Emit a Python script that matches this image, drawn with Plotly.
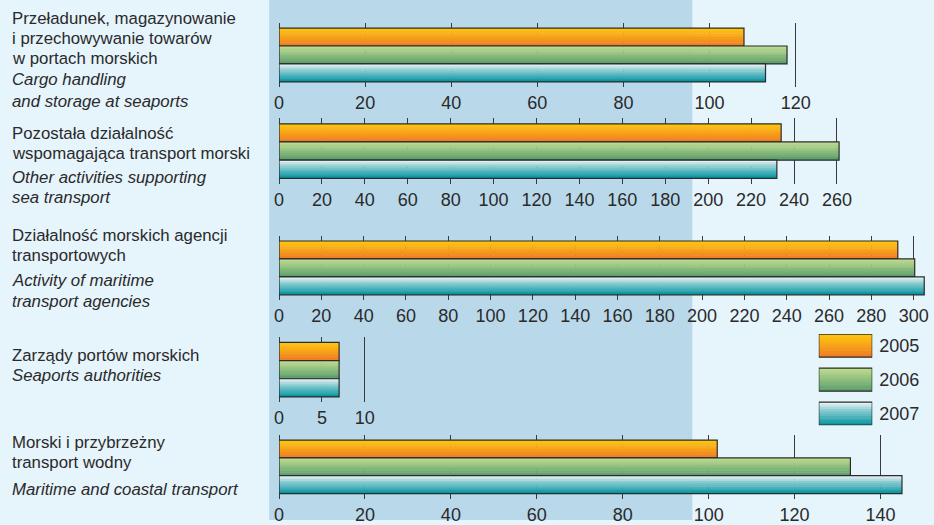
import plotly.graph_objects as go

W, H = 934, 525

# ---------------- data ----------------
years = ["2005", "2006", "2007"]
categories_pl = [
    ["Przeładunek, magazynowanie", "i przechowywanie towarów", "w portach morskich"],
    ["Pozostała działalność", "wspomagająca transport morski"],
    ["Działalność morskich agencji", "transportowych"],
    ["Zarządy portów morskich"],
    ["Morski i przybrzeżny", "transport wodny"],
]
categories_en = [
    ["Cargo handling", "and storage at seaports"],
    ["Other activities supporting", "sea transport"],
    ["Activity of maritime", "transport agencies"],
    ["Seaports authorities"],
    ["Maritime and coastal transport"],
]
values_2005 = [108, 234, 292.5, 7, 102]
values_2006 = [118, 261, 300.5, 7, 133]
values_2007 = [113, 232, 305, 7, 145]
axis_max = [125, 265, 306, 12, 148]
tick_step = [20, 20, 20, 5, 20]

# ---------------- styling / layout (pixels) ----------------
FONT = "Liberation Sans Narrow, Arial Narrow, Liberation Sans, Arial, sans-serif"
BG = "#e6f4fc"
BAND = "#b9d9eb"
GRID = "#3a3a3a"
EDGE = "#2b2b2b"
TXT = "#2a2a2a"
TICK_SIZE = 18
TEXT_SIZE = 16.8

x0_px = 276.7
px_per_unit = [4.347, 2.1667, 2.136, 8.667, 4.338]
bar_top = [28.3, 125.0, 243.3, 345.7, 444.3]
bar_bot = [82.7, 180.0, 297.7, 400.7, 498.3]
PAD = 5.5

text_y = [
    [18.5, 39, 59.5, 80.5, 102],
    [134.5, 155, 179.5, 199.5],
    [237.5, 257.5, 283, 304],
    [358.5, 379.5],
    [446.5, 467, 494],
]


def lerp(c1, c2, t):
    a = [int(c1[i:i + 2], 16) for i in (1, 3, 5)]
    b = [int(c2[i:i + 2], 16) for i in (1, 3, 5)]
    return "#%02x%02x%02x" % tuple(round(a[i] + (b[i] - a[i]) * t) for i in range(3))


def ramp(stops, n):
    out = []
    for k in range(n):
        t = (k + 0.5) / n
        for j in range(len(stops) - 1):
            p0, c0 = stops[j]
            p1, c1 = stops[j + 1]
            if p0 <= t <= p1:
                out.append(lerp(c0, c1, (t - p0) / (p1 - p0)))
                break
    return out


NST = 10
grad = {
    "2005": ramp([(0, "#ffc90e"), (1, "#ef7b24")], NST),
    "2006": ramp([(0, "#c2de90"), (1, "#5a9d6b")], NST),
    "2007": ramp([(0, "#f2f6f6"), (0.35, "#8ccdd2"), (1, "#00939e")], NST),
}

fig = go.Figure()


def add_bar(value, cat, xa, ya, full=1.0):
    w = full / NST
    for k, c in enumerate(grad[cat]):
        fig.add_trace(go.Bar(
            x=[value], y=[cat], orientation="h",
            offset=-full / 2 + k * w, width=w * 1.25 if k < NST - 1 else w,
            marker=dict(color=c, line=dict(width=0)),
            xaxis=xa, yaxis=ya, showlegend=False, hoverinfo="skip"))
    fig.add_trace(go.Bar(
        x=[value], y=[cat], orientation="h", offset=-full / 2, width=full,
        marker=dict(color="rgba(0,0,0,0)", line=dict(width=1.2, color=EDGE)),
        xaxis=xa, yaxis=ya, showlegend=False, hoverinfo="skip"))


series = {"2005": values_2005, "2006": values_2006, "2007": values_2007}
layout_axes = {}
for i in range(5):
    n = i + 1
    xa = "x" if n == 1 else f"x{n}"
    ya = "y" if n == 1 else f"y{n}"
    for yr in years:
        add_bar(series[yr][i], yr, xa, ya)
    x1_px = x0_px + axis_max[i] * px_per_unit[i]
    top = bar_top[i] - PAD
    bot = bar_bot[i] + PAD
    u = (bar_bot[i] - bar_top[i]) / 3
    xkey = "xaxis" if n == 1 else f"xaxis{n}"
    ykey = "yaxis" if n == 1 else f"yaxis{n}"
    layout_axes[xkey] = dict(
        domain=[x0_px / W, x1_px / W], range=[0, axis_max[i]], anchor=ya,
        dtick=tick_step[i], tick0=0, showgrid=True, gridcolor=GRID, gridwidth=1,
        zeroline=True, zerolinecolor=GRID, zerolinewidth=1, showline=False,
        ticks="", tickfont=dict(family=FONT, size=TICK_SIZE, color=TXT),
        ticklabelstandoff=3, fixedrange=True)
    layout_axes[ykey] = dict(
        domain=[1 - bot / H, 1 - top / H], anchor=xa, type="category",
        categoryorder="array", categoryarray=years,
        range=[2.5 + PAD / u, -0.5 - PAD / u],
        showgrid=False, zeroline=False, showticklabels=False, ticks="",
        fixedrange=True)

# legend drawn as a small bar panel
leg_top, leg_bot = 337.3, 429.3
box_h = 23.3
unit = (leg_bot - leg_top - box_h) / 2
bw = box_h / unit
for yr in years:
    add_bar(1, yr, "x6", "y6", full=bw)
layout_axes["xaxis6"] = dict(domain=[821.7 / W, 875.7 / W], range=[0, 1], anchor="y6",
                             visible=False, fixedrange=True)
layout_axes["yaxis6"] = dict(
    domain=[1 - leg_bot / H, 1 - leg_top / H], anchor="x6", type="category",
    categoryorder="array", categoryarray=years,
    range=[2 + bw / 2, -bw / 2], side="right", showgrid=False, zeroline=False,
    ticks="", tickfont=dict(family=FONT, size=TICK_SIZE, color=TXT), ticklabelstandoff=6,
    fixedrange=True)

annotations = []
for i in range(5):
    lines = [(t, False) for t in categories_pl[i]] + [(t, True) for t in categories_en[i]]
    for (t, it), yp in zip(lines, text_y[i]):
        annotations.append(dict(
            x=5.5 / W, y=1 - yp / H, xref="paper", yref="paper",
            xanchor="left", yanchor="middle", showarrow=False,
            text=f"<i>{t}</i>" if it else t,
            font=dict(family=FONT, size=TEXT_SIZE, color=TXT)))

fig.update_layout(
    width=W, height=H, margin=dict(l=0, r=0, t=0, b=0),
    paper_bgcolor=BG, plot_bgcolor="rgba(0,0,0,0)",
    barmode="overlay", showlegend=False,
    shapes=[dict(type="rect", xref="paper", yref="paper",
                 x0=266.7 / W, x1=694 / W, y0=0, y1=1,
                 fillcolor=BAND, line=dict(width=0), layer="below")],
    annotations=annotations,
    **layout_axes)

fig.write_html(
    "out.html", config={"displayModeBar": False},
    post_script=("document.body.style.margin='0';"
                 "document.body.style.padding='0';"
                 "document.body.style.overflow='hidden';"
                 "document.documentElement.style.overflow='hidden';"))
